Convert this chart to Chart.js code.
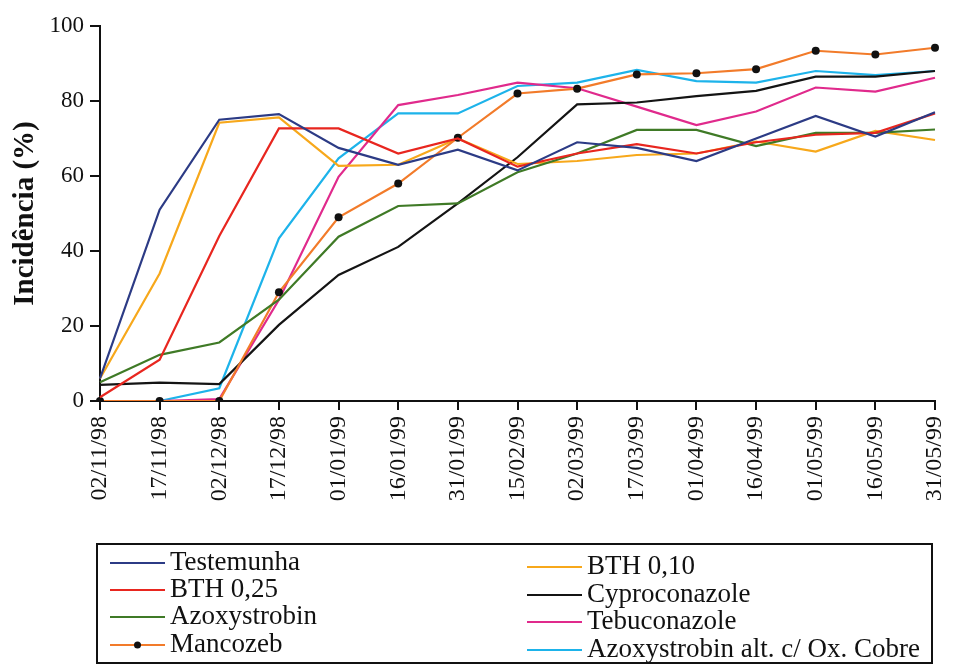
<!DOCTYPE html>
<html>
<head>
<meta charset="utf-8">
<script src="https://cdn.jsdelivr.net/npm/chart.js@4"></script>
<style>
  html, body { margin: 0; padding: 0; background: #fff; }
  #wrap { width: 962px; height: 668px; }
</style>
</head>
<body>
<div id="wrap"><canvas id="chart" width="962" height="668"></canvas></div>
<script>
// dates of evaluation
const dates = ['02/11/98', '17/11/98', '02/12/98', '17/12/98', '01/01/99', '16/01/99', '31/01/99', '15/02/99',
  '02/03/99', '17/03/99', '01/04/99', '16/04/99', '01/05/99', '16/05/99', '31/05/99'];

// incidência (%) per treatment
const testemunha   = [6, 51, 75, 76.5, 67.5, 63, 67, 61.5, 69, 67.5, 64, 70, 76, 70.5, 77];
const bth025       = [1, 11, 44, 72.7, 72.7, 66, 70, 62.5, 66, 68.5, 66, 69, 71, 71.5, 76.7];
const azoxystrobin = [5, 12.3, 15.6, 27, 43.8, 52, 52.7, 61, 66, 72.3, 72.3, 68, 71.5, 71.5, 72.4];
const mancozeb     = [0, 0, 0, 29, 49, 58, 70.2, 82, 83.3, 87.1, 87.4, 88.5, 93.4, 92.4, 94.2];
const bth010       = [6, 34, 74.2, 75.6, 62.7, 63, 70, 63.2, 64, 65.6, 66, 69.2, 66.5, 72, 69.6];
const cyproconazole = [4.3, 4.9, 4.5, 20.3, 33.6, 41.1, 52.7, 65, 79.1, 79.6, 81.3, 82.7, 86.5, 86.5, 88];
const tebuconazole = [0, 0, 0.5, 27, 59.8, 78.9, 81.6, 84.9, 83.4, 78.5, 73.6, 77.2, 83.6, 82.5, 86.2];
const azoxAltCobre = [0, 0, 3.4, 43.4, 64.7, 76.7, 76.7, 84, 84.9, 88.3, 85.3, 84.9, 88, 86.9, 88];

const yTicks = [0, 20, 40, 60, 80, 100];

const serif = '"Liberation Serif", "Times New Roman", serif';

function line(label, data, color, dots) {
  return {
    label: label,
    data: data,
    borderColor: color,
    backgroundColor: color,
    borderWidth: 2.2,
    tension: 0,
    fill: false,
    pointRadius: dots ? 4 : 0,
    pointBackgroundColor: '#111',
    pointBorderColor: '#111',
    pointBorderWidth: 0
  };
}

// order matters for the legend: left column first, then right column
const datasets = [
  line('Testemunha', testemunha, '#2c3b85'),
  line('BTH 0,25', bth025, '#e8261f'),
  line('Azoxystrobin', azoxystrobin, '#3f7a26'),
  line('Mancozeb', mancozeb, '#f27b2a', true),
  line('BTH 0,10', bth010, '#f7a81b'),
  line('Cyproconazole', cyproconazole, '#141414'),
  line('Tebuconazole', tebuconazole, '#e02a8c'),
  line('Azoxystrobin alt. c/ Ox. Cobre', azoxAltCobre, '#1db3ea')
];

// boxed two-column legend drawn under the axis labels
const boxLegend = {
  id: 'boxLegend',
  afterDraw(chart) {
    const ctx = chart.ctx;
    ctx.save();
    ctx.strokeStyle = '#111';
    ctx.lineWidth = 2;
    ctx.strokeRect(97, 544, 835, 119);
    ctx.font = '27px ' + serif;
    ctx.textBaseline = 'middle';
    const cols = [
      { x0: 110, x1: 165, ys: [563, 590, 617, 645] },
      { x0: 527, x1: 582, ys: [567, 595, 622, 650] }
    ];
    chart.data.datasets.forEach((ds, i) => {
      const col = cols[Math.floor(i / 4)];
      const y = col.ys[i % 4];
      ctx.strokeStyle = ds.borderColor;
      ctx.lineWidth = 2;
      ctx.beginPath();
      ctx.moveTo(col.x0, y);
      ctx.lineTo(col.x1, y);
      ctx.stroke();
      if (ds.pointRadius > 0) {
        ctx.fillStyle = '#111';
        ctx.beginPath();
        ctx.arc((col.x0 + col.x1) / 2, y, 3.5, 0, Math.PI * 2);
        ctx.fill();
      }
      ctx.fillStyle = '#111';
      ctx.fillText(ds.label, col.x1 + 5, y);
    });
    ctx.restore();
  }
};

new Chart(document.getElementById('chart').getContext('2d'), {
  type: 'line',
  data: { labels: dates, datasets: datasets },
  plugins: [boxLegend],
  options: {
    responsive: false,
    animation: false,
    layout: { padding: { top: 26, right: 27, left: 8, bottom: 0 } },
    plugins: {
      legend: { display: false },
      tooltip: { enabled: false }
    },
    scales: {
      x: {
        offset: false,
        afterFit: s => { s.height = 267; s.paddingLeft = 0; s.paddingRight = 0; },
        grid: { display: true, drawOnChartArea: false, drawTicks: true, tickLength: 9, color: '#111', lineWidth: 2 },
        border: { display: true, color: '#111', width: 2 },
        ticks: {
          autoSkip: false,
          maxRotation: 90,
          minRotation: 90,
          padding: 6,
          color: '#111',
          font: { family: serif, size: 24 }
        }
      },
      y: {
        min: 0,
        max: 100,
        afterFit: s => { s.width = 92; },
        afterBuildTicks: s => { s.ticks = yTicks.map(v => ({ value: v })); },
        grid: { display: true, drawOnChartArea: false, drawTicks: true, tickLength: 10, color: '#111', lineWidth: 2 },
        border: { display: true, color: '#111', width: 2 },
        title: {
          display: true,
          text: 'Incidência (%)',
          color: '#111',
          font: { family: serif, size: 29, weight: 'bold' },
          padding: { top: 0, bottom: 0 }
        },
        ticks: {
          padding: 6,
          color: '#111',
          font: { family: serif, size: 23 }
        }
      }
    }
  }
});
</script>
</body>
</html>
